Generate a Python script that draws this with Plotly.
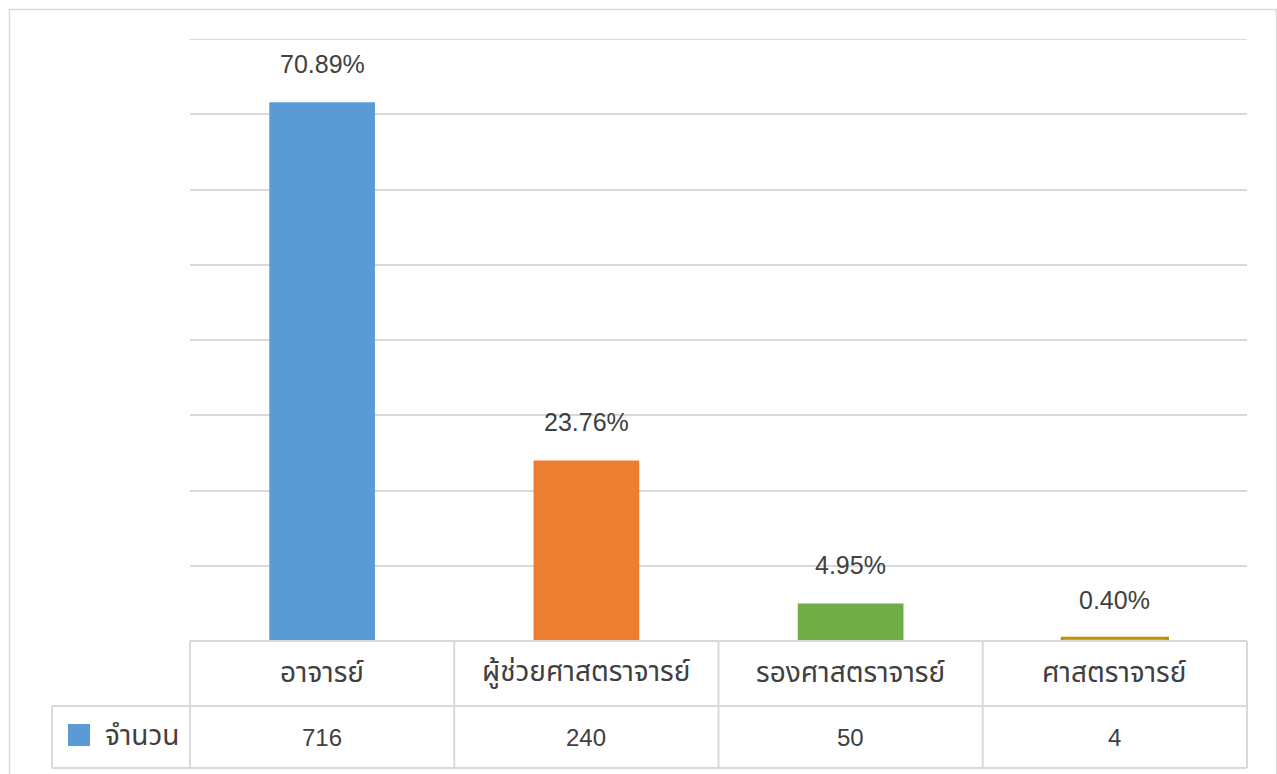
import plotly.graph_objects as go

categories = ["อาจารย์", "ผู้ช่วยศาสตราจารย์", "รองศาสตราจารย์", "ศาสตราจารย์"]
counts = [716, 240, 50, 4]
pct_labels = ["70.89%", "23.76%", "4.95%", "0.40%"]
series_name = "จำนวน"
bar_colors = ["#5B9BD5", "#ED7D31", "#70AD47", "#FFC000"]
bar_lines = ["#5B9BD5", "#ED7D31", "#70AD47", "#BF9000"]
y_max = 800

W, H = 1277, 774
L, R, T, B = 190, 30, 39, 133
plot_h = H - T - B
plot_w = W - L - R

def py(p):
    return (H - B - p) / plot_h

def px(p):
    return (p - L) / plot_w

FONT = "Liberation Sans, Noto Sans Thai, Tahoma, sans-serif"
TXT = "#404040"
GRID = "#D9D9D9"

fig = go.Figure()
fig.add_trace(go.Bar(
    x=categories, y=counts, name=series_name,
    marker=dict(color=bar_colors, line=dict(color=bar_lines, width=[0, 0, 0, 2.5])),
    showlegend=False, hoverinfo="x+y",
))

annotations = []
for c, v, t in zip(categories, counts, pct_labels):
    annotations.append(dict(x=c, y=v, xref="x", yref="y", text=t, showarrow=False,
                            yanchor="middle", yshift=38,
                            font=dict(size=25, color=TXT, family=FONT)))
    annotations.append(dict(x=c, y=py(673), xref="x", yref="paper", text=c, showarrow=False,
                            yanchor="middle", font=dict(size=28, color=TXT, family=FONT)))
    annotations.append(dict(x=c, y=py(737), xref="x", yref="paper", text=str(v), showarrow=False,
                            yanchor="middle", font=dict(size=24, color=TXT, family=FONT)))
annotations.append(dict(x=px(103), y=py(735), xref="paper", yref="paper", text=series_name,
                        xanchor="left", yanchor="middle", showarrow=False,
                        font=dict(size=28, color=TXT, family=FONT)))

shapes = []
# outer chart border
shapes.append(dict(type="rect", xref="paper", yref="paper", x0=px(9.5), x1=px(1276.5),
                   y0=py(790), y1=py(9.5), line=dict(color=GRID, width=1.5), layer="below"))
# top gridline at axis max
shapes.append(dict(type="line", xref="paper", yref="y", x0=0, x1=1, y0=y_max, y1=y_max,
                   line=dict(color=GRID, width=2), layer="below"))
# table horizontal lines
for yy, x0 in [(641, 190), (706, 52), (768, 52)]:
    shapes.append(dict(type="line", xref="paper", yref="paper", x0=px(x0), x1=px(1247),
                       y0=py(yy), y1=py(yy), line=dict(color=GRID, width=2)))
# table vertical lines
for i in range(len(categories) + 1):
    xx = 190 + i * (1247 - 190) / len(categories)
    shapes.append(dict(type="line", xref="paper", yref="paper", x0=px(xx), x1=px(xx),
                       y0=py(641), y1=py(768), line=dict(color=GRID, width=2)))
shapes.append(dict(type="line", xref="paper", yref="paper", x0=px(52), x1=px(52),
                   y0=py(706), y1=py(768), line=dict(color=GRID, width=2)))
# legend swatch
shapes.append(dict(type="rect", xref="paper", yref="paper", x0=px(68), x1=px(90),
                   y0=py(746), y1=py(724), fillcolor=bar_colors[0], line=dict(width=0)))

fig.update_layout(
    width=W, height=H,
    margin=dict(l=L, r=R, t=T, b=B),
    paper_bgcolor="white", plot_bgcolor="white",
    bargap=0.6,
    xaxis=dict(showticklabels=False, showgrid=False, zeroline=False, showline=False, ticks=""),
    yaxis=dict(range=[0, y_max], dtick=100, showticklabels=False, showgrid=True, gridcolor=GRID,
               gridwidth=1.5, zeroline=False, showline=False, ticks=""),
    annotations=annotations, shapes=shapes,
    font=dict(family=FONT, color=TXT),
)

fig.write_html("out.html")
